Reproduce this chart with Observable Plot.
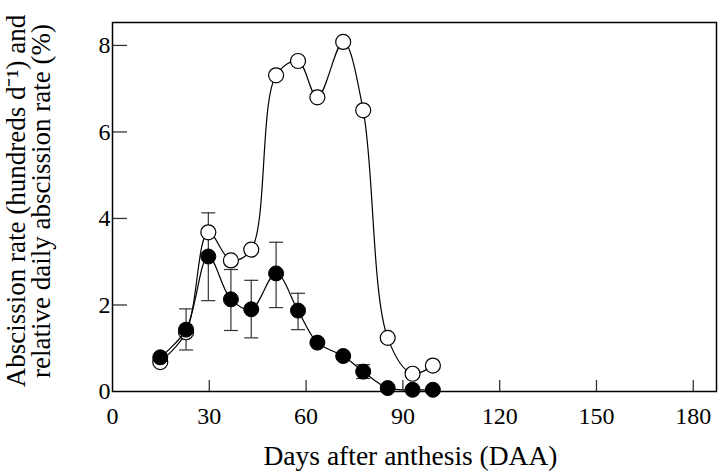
<!DOCTYPE html>
<html><head><meta charset="utf-8">
<script src="https://cdn.jsdelivr.net/npm/d3@7"></script>
<script src="https://cdn.jsdelivr.net/npm/@observablehq/plot@0.6"></script>
<style>body{margin:0;background:#fff}</style>
</head><body><div id="chart"></div>
<script>
const days = [14.8, 22.8, 29.7, 36.7, 43.0, 50.7, 57.5, 63.5, 71.5, 77.7, 85.3, 93.0, 99.3];
const relativeRate = [0.68, 1.37, 3.68, 3.03, 3.28, 7.31, 7.64, 6.80, 8.08, 6.50, 1.24, 0.41, 0.60];
const abscissionRate = [0.79, 1.43, 3.12, 2.13, 1.90, 2.73, 1.87, 1.13, 0.82, 0.46, 0.08, 0.04, 0.04];
const errDays = [22.8, 29.7, 36.7, 43.0, 50.7, 57.5, 77.7];
const errLow = [0.96, 2.10, 1.41, 1.24, 1.94, 1.43, 0.30];
const errHigh = [1.91, 4.13, 2.82, 2.57, 3.45, 2.27, 0.62];
const xTicks = [0, 30, 60, 90, 120, 150, 180];
const yTicks = [0, 2, 4, 6, 8];
const xTitle = "Days after anthesis (DAA)";
const yTitle = "Abscission rate (hundreds d\u207B\u00B9) and\nrelative daily abscission rate (%)";

const openData = days.map((d, i) => ({day: d, v: relativeRate[i]}));
const filledData = days.map((d, i) => ({day: d, v: abscissionRate[i]}));
const errData = errDays.map((d, i) => ({day: d, lo: errLow[i], hi: errHigh[i]}));

const cap = {draw(ctx, size) { const w = Math.sqrt(size / Math.PI); ctx.moveTo(-w, 0); ctx.lineTo(w, 0); }};

const W = 720, H = 475, mL = 112, mR = 4, mT = 22, mB = 84;
const fw = W - mL - mR, fh = H - mT - mB;

const chart = Plot.plot({
  width: W, height: H,
  marginLeft: mL, marginRight: mR, marginTop: mT, marginBottom: mB,
  style: {fontFamily: "'Liberation Serif', 'Times New Roman', serif", fontSize: "24px", color: "black", background: "white"},
  x: {domain: [0, 187.2]},
  y: {domain: [0, 8.53]},
  marks: [
    Plot.ruleX(errData, {x: "day", y1: "lo", y2: "hi", stroke: "#333", strokeWidth: 1.2}),
    Plot.dot(errData, {x: "day", y: "hi", symbol: cap, r: 7, stroke: "#333", strokeWidth: 1.2, fill: "none"}),
    Plot.dot(errData, {x: "day", y: "lo", symbol: cap, r: 7, stroke: "#333", strokeWidth: 1.2, fill: "none"}),
    Plot.line(openData, {x: "day", y: "v", curve: "catmull-rom", stroke: "black", strokeWidth: 1.2}),
    Plot.dot(openData, {x: "day", y: "v", r: 7.5, fill: "white", stroke: "black", strokeWidth: 1.2}),
    Plot.line(filledData, {x: "day", y: "v", curve: "catmull-rom", stroke: "black", strokeWidth: 1.2}),
    Plot.dot(filledData, {x: "day", y: "v", r: 7.5, fill: "black", stroke: "black", strokeWidth: 1}),
    Plot.tickX(xTicks.slice(1), {x: d => d, insetTop: fh - 11, stroke: "#333", strokeWidth: 1.3}),
    Plot.tickY(yTicks.slice(1), {y: d => d, insetRight: fw - 15, stroke: "#333", strokeWidth: 1.3}),
    Plot.frame({stroke: "black", strokeWidth: 1.5}),
    Plot.axisX(xTicks, {tickSize: 0, tickPadding: 15, label: null, fontSize: 24}),
    Plot.axisY(yTicks, {tickSize: 0, tickPadding: 2, label: null, fontSize: 24}),
    Plot.text([xTitle], {frameAnchor: "bottom", dy: 65, dx: -4, fontSize: 27.5, lineAnchor: "middle", fill: "black"}),
    Plot.text([yTitle], {frameAnchor: "left", dx: -83, dy: -6, rotate: -90, textAnchor: "middle", fontSize: 27, lineAnchor: "middle", lineHeight: 0.93, fill: "black"})
  ]
});
document.getElementById("chart").appendChild(chart);
</script>
</body></html>
